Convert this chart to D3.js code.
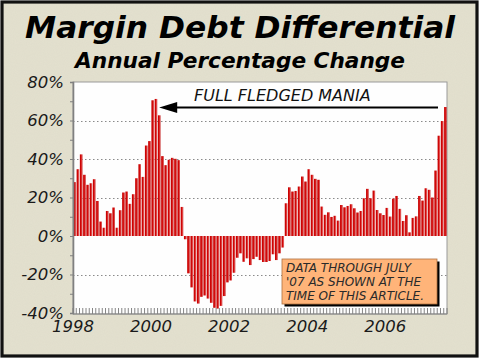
<!DOCTYPE html>
<html>
<head>
<meta charset="utf-8">
<script src="https://cdn.jsdelivr.net/npm/d3@7"></script>
<style>
  html, body { margin: 0; padding: 0; background: #ffffff; }
  svg { display: block; }
</style>
</head>
<body>
<script>
// ---------- DATA (annual % change of margin debt, monthly) ----------
const years = [1998, 1999, 2000, 2001, 2002, 2003, 2004, 2005, 2006, 2007];
const monthNames = ["Jan","Feb","Mar","Apr","May","Jun","Jul","Aug","Sep","Oct","Nov","Dec"];
const v1998 = [28.0, 34.7, 42.4, 31.8, 26.6, 27.4, 29.5, 18.2, 7.5, 4.3, 13.0, 11.8];
const v1999 = [14.8, 4.3, 13.4, 22.6, 23.1, 16.7, 21.7, 30.0, 37.3, 30.7, 47.0, 49.3];
const v2000 = [70.5, 71.2, 62.7, 41.5, 36.8, 39.6, 40.6, 40.1, 39.4, 15.1, -1.7, -19.4];
const v2001 = [-26.7, -34.0, -35.1, -31.6, -30.9, -32.5, -34.7, -37.3, -37.7, -36.3, -31.2, -24.1];
const v2002 = [-23.1, -19.1, -11.3, -9.0, -13.4, -11.6, -15.1, -12.0, -10.8, -12.5, -13.5, -13.5];
const v2003 = [-13.0, -9.5, -12.5, -9.0, -6.0, 17.0, 25.3, 23.1, 23.4, 25.7, 30.9, 28.3];
const v2004 = [34.7, 31.8, 29.7, 29.2, 15.3, 11.0, 12.3, 9.9, 10.5, 8.0, 16.1, 14.9];
const v2005 = [15.6, 16.5, 14.4, 12.2, 13.0, 19.6, 24.5, 19.6, 23.6, 13.5, 11.8, 10.9];
const v2006 = [14.6, 10.1, 19.4, 20.8, 14.1, 7.8, 10.8, 1.9, 9.4, 10.2, 20.8, 18.4];
const v2007 = [24.8, 24.0, 20.0, 34.0, 52.1, 59.7, 67.0];
const yearValues = [v1998, v1999, v2000, v2001, v2002, v2003, v2004, v2005, v2006, v2007];
const yTicks = [-40, -20, 0, 20, 40, 60, 80];
const yMinor = [-40, -30, -20, -10, 0, 10, 20, 30, 40, 50, 60, 70, 80];
const xLabels = ["1998", "2000", "2002", "2004", "2006"];
const titleText = "Margin Debt Differential";
const subtitleText = "Annual Percentage Change";
const arrowText = "FULL FLEDGED MANIA";
const noteLines = ["DATA THROUGH JULY", "'07 AS SHOWN AT THE", "TIME OF THIS ARTICLE."];

// build table
const data = [];
years.forEach((y, yi) => {
  yearValues[yi].forEach((v, mi) => data.push({ key: monthNames[mi] + " " + y, year: y, month: mi, value: v }));
});

// ---------- LAYOUT ----------
const W = 480, H = 360;
const plot = { left: 73, right: 447, top: 82, bottom: 314 };
const FONT = "'DejaVu Sans', Verdana, sans-serif";

const svg = d3.select("body").append("svg").attr("width", W).attr("height", H);

const defs = svg.append("defs");
const grad = defs.append("linearGradient").attr("id", "barGrad").attr("x1", "0").attr("x2", "1").attr("y1", "0").attr("y2", "0");
grad.append("stop").attr("offset", "0%").attr("stop-color", "#c40000");
grad.append("stop").attr("offset", "50%").attr("stop-color", "#d30808");
grad.append("stop").attr("offset", "78%").attr("stop-color", "#e25454");
grad.append("stop").attr("offset", "100%").attr("stop-color", "#bb0000");

// subtle paper noise
const flt = defs.append("filter").attr("id", "noise").attr("x", 0).attr("y", 0).attr("width", "100%").attr("height", "100%");
flt.append("feTurbulence").attr("type", "fractalNoise").attr("baseFrequency", 0.9).attr("numOctaves", 1).attr("seed", 3).attr("result", "t");
flt.append("feColorMatrix").attr("in", "t").attr("type", "matrix")
  .attr("values", "0 0 0 0 0.45  0 0 0 0 0.44  0 0 0 0 0.38  0 0 0 0.18 0");

// background frame
svg.append("rect").attr("x", 2).attr("y", 2).attr("width", 475).attr("height", 354)
  .attr("fill", "#e4e1cf").attr("stroke", "none");
svg.append("rect").attr("x", 2).attr("y", 2).attr("width", 475).attr("height", 354)
  .attr("fill", "#000").attr("filter", "url(#noise)").attr("opacity", 0.5);
svg.append("rect").attr("x", 2).attr("y", 2).attr("width", 475).attr("height", 354)
  .attr("fill", "none").attr("stroke", "#111").attr("stroke-width", 3.2);

// titles
svg.append("text").attr("x", 240).attr("y", 38).attr("text-anchor", "middle")
  .attr("font-family", FONT).attr("font-weight", "bold").attr("font-style", "italic")
  .attr("font-size", 30).attr("fill", "#000")
  .attr("textLength", 430).attr("lengthAdjust", "spacingAndGlyphs")
  .text(titleText);
svg.append("text").attr("x", 240).attr("y", 68).attr("text-anchor", "middle")
  .attr("font-family", FONT).attr("font-weight", "bold").attr("font-style", "italic")
  .attr("font-size", 22).attr("fill", "#000")
  .attr("textLength", 330).attr("lengthAdjust", "spacingAndGlyphs")
  .text(subtitleText);

// scales
const x = d3.scaleBand().domain(data.map(d => d.key))
  .range([plot.left, plot.right]).paddingInner(0.22).paddingOuter(0.11);
const y = d3.scaleLinear().domain([-40, 80]).range([313, plot.top]);
const gap = (x.step() - x.bandwidth()) / 2;

// plot area
svg.append("rect").attr("x", plot.left).attr("y", plot.top)
  .attr("width", plot.right - plot.left).attr("height", plot.bottom - plot.top)
  .attr("fill", "#fefefe").attr("stroke", "#9a9a9a").attr("stroke-width", 1);

// gridlines
svg.append("g").selectAll("line").data(yTicks.filter(t => t !== -40 && t !== 80 && t !== 0)).join("line")
  .attr("x1", plot.left).attr("x2", plot.right)
  .attr("y1", d => Math.round(y(d)) + 0.5).attr("y2", d => Math.round(y(d)) + 0.5)
  .attr("stroke", "#8a8a8a").attr("stroke-width", 1).attr("stroke-dasharray", "1.5,2.5");

// bars
svg.append("g").selectAll("rect").data(data).join("rect")
  .attr("x", d => x(d.key))
  .attr("width", x.bandwidth())
  .attr("y", d => y(Math.max(0, d.value)))
  .attr("height", d => Math.abs(y(d.value) - y(0)))
  .attr("fill", "url(#barGrad)");

// bottom month ticks
const tickPos = data.map(d => x(d.key) - gap).concat([plot.right]);
svg.append("g").selectAll("line").data(tickPos).join("line")
  .attr("x1", d => d).attr("x2", d => d)
  .attr("y1", 308).attr("y2", plot.bottom)
  .attr("stroke", "#777").attr("stroke-width", 0.9);
svg.append("line").attr("x1", plot.left).attr("x2", plot.right)
  .attr("y1", plot.bottom).attr("y2", plot.bottom).attr("stroke", "#888").attr("stroke-width", 1.2);

// y axis
const yAxis = d3.axisLeft(y).tickValues(yMinor).tickSize(3).tickPadding(6)
  .tickFormat(d => yTicks.includes(d) ? d + "%" : "");
const gy = svg.append("g").attr("transform", `translate(${plot.left},0)`).call(yAxis);
gy.select(".domain").attr("stroke", "#808080").attr("stroke-width", 1.6);
gy.selectAll(".tick line").attr("stroke", "#808080");
gy.selectAll(".tick text").attr("font-family", FONT).attr("font-style", "italic")
  .attr("font-size", 16.5).attr("fill", "#1a1a1a");

// x labels
const xl = xLabels.map(s => ({ s, pos: x("Jan " + s) - gap }));
svg.append("g").selectAll("text").data(xl).join("text")
  .attr("x", d => d.pos).attr("y", 332).attr("text-anchor", "middle")
  .attr("font-family", FONT).attr("font-style", "italic").attr("font-size", 16.5).attr("fill", "#1a1a1a")
  .text(d => d.s);

// arrow annotation
const arrowY = 107.5;
const tipX = x("Feb 2000") + x.bandwidth() + 2;
svg.append("line").attr("x1", tipX + 14).attr("x2", 438).attr("y1", arrowY).attr("y2", arrowY)
  .attr("stroke", "#000").attr("stroke-width", 1.8);
svg.append("path")
  .attr("d", `M${tipX},${arrowY} L${tipX + 18},${arrowY - 5.5} L${tipX + 18},${arrowY + 5.5} Z`)
  .attr("fill", "#000");
svg.append("text").attr("x", 194).attr("y", 101).attr("font-family", FONT).attr("font-style", "italic")
  .attr("font-size", 16).attr("fill", "#111").text(arrowText);

// note box
const box = { x: 282, y: 259, w: 155, h: 45 };
svg.append("rect").attr("x", box.x + 2.5).attr("y", box.y + 2.5).attr("width", box.w).attr("height", box.h).attr("fill", "#000");
svg.append("rect").attr("x", box.x).attr("y", box.y).attr("width", box.w).attr("height", box.h)
  .attr("fill", "#ffb479").attr("stroke", "#b07040").attr("stroke-width", 0.8);
svg.append("g").selectAll("text").data(noteLines).join("text")
  .attr("x", 286).attr("y", (d, i) => 271.5 + i * 14.3)
  .attr("font-family", FONT).attr("font-style", "italic").attr("font-size", 12).attr("fill", "#2a2a2a")
  .text(d => d);
</script>
</body>
</html>
